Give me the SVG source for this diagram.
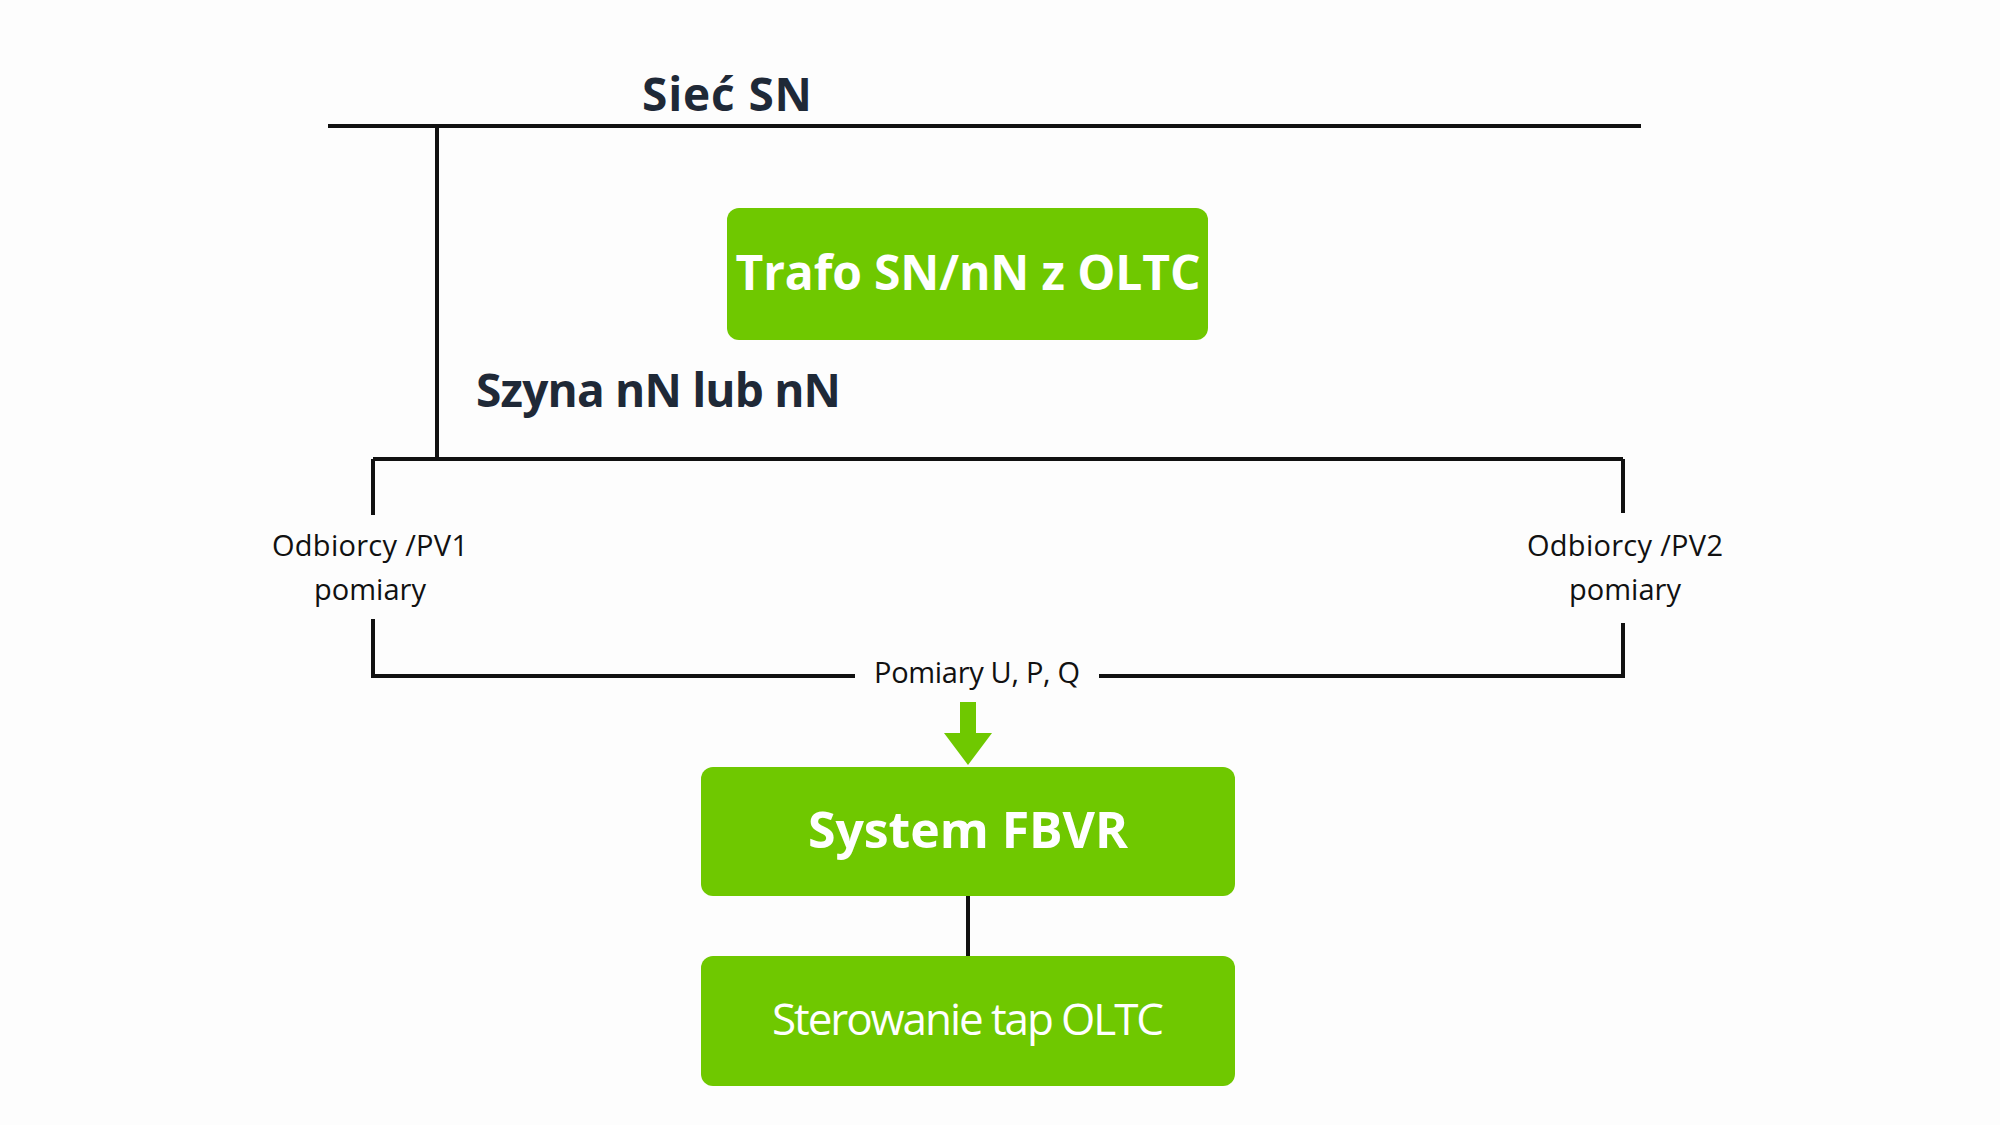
<svg xmlns="http://www.w3.org/2000/svg" width="2000" height="1125" viewBox="0 0 2000 1125">
<style>
.ln{stroke:#111;stroke-width:4;fill:none}
.box{fill:#6fc800}
.t{font-family:"Open Sans","Liberation Sans",sans-serif}
.h{font-weight:700;fill:#1f2937;font-size:46px}
.w{fill:#fff;text-anchor:middle}
.s{fill:#111;font-size:29px;text-anchor:middle}
</style>
<rect width="2000" height="1125" fill="#fdfdfd"/>
<g id="connectors">
<path class="ln" d="M328 126H1641M437 126V459M373 459H1623M373 459V515M1623 459V513M373 619V676H855M1099 676H1623V623M968 896V956"/>
<path fill="#6fc800" d="M960 702H976V733H992L968 765L944 733H960Z"/>
</g>
<g id="siec"><text class="t h" x="642" y="111" textLength="170">Sieć SN</text></g>
<g id="szyna"><text class="t h" x="476" y="407" textLength="365">Szyna nN lub nN</text></g>
<g id="trafo"><rect class="box" x="727" y="208" width="481" height="132" rx="12"/><text class="t w" x="968" y="290" font-size="48" font-weight="700" textLength="465">Trafo SN/nN z OLTC</text></g>
<g id="pv1"><text class="t s" x="370" y="556" textLength="196">Odbiorcy /PV1</text><text class="t s" x="370" y="600">pomiary</text></g>
<g id="pv2"><text class="t s" x="1625" y="556" textLength="196">Odbiorcy /PV2</text><text class="t s" x="1625" y="600">pomiary</text></g>
<g id="pomiary"><text class="t s" x="977" y="683" textLength="206">Pomiary U, P, Q</text></g>
<g id="fbvr"><rect class="box" x="701" y="767" width="534" height="129" rx="12"/><text class="t w" x="968" y="848" font-size="50" font-weight="700" textLength="320">System FBVR</text></g>
<g id="tap"><rect class="box" x="701" y="956" width="534" height="130" rx="12"/><text class="t w" x="968" y="1035" font-size="44" textLength="392">Sterowanie tap OLTC</text></g>
</svg>
